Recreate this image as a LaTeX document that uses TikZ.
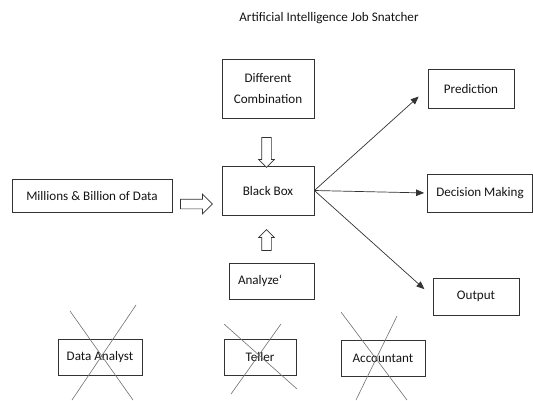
\documentclass[tikz,border=0pt]{standalone}
\usepackage{fontspec}
\setmainfont{Carlito}
\usetikzlibrary{arrows.meta,shapes.arrows,calc}
\definecolor{jInk}{HTML}{141414}
\definecolor{jLine}{HTML}{333333}
\definecolor{jCross}{HTML}{707070}

\begin{document}
\begin{tikzpicture}[
  x=1pt, y=-1pt,
  font=\fontsize{13.1}{15}\selectfont, text=jInk,
  >={Triangle[length=8pt, width=6.5pt]},
  box/.style={rectangle, draw=jLine, line width=0.8pt, inner sep=2pt, align=center},
  hollow/.style={single arrow, draw=jLine, line width=0.7pt, fill=white, inner sep=4.5pt,
                 single arrow head extend=3pt},
  link/.style={->, line width=0.7pt, draw=jLine},
  strike/.style={line width=0.6pt, draw=jCross},
]
\useasboundingbox (0,0) rectangle (533,400);

% title
\node (title) at (329,18) {Artificial Intelligence Job Snatcher};

% centre column
\node[box, minimum width=92pt, minimum height=59pt, font=\fontsize{13.1}{21}\selectfont]
  (comb) at (268,88.5) {Different\\Combination};
\node[box, minimum width=92pt, minimum height=49pt] (bbox) at (268,190.5) {Black Box};
\node[box, minimum width=85pt, minimum height=36pt, text width=67pt, align=left, inner xsep=9pt]
  (anlz) at (271.5,281) {Analyze\symbol{96}};
\node[box, minimum width=160pt, minimum height=33pt] (data) at (92,195.5) {Millions \& Billion of Data};

% hollow arrows into the black box
\node[hollow, minimum height=30pt, shape border rotate=270] (dn) at (266.5,150) {};
\node[hollow, minimum height=21pt, shape border rotate=90] (up) at (266.5,242.5) {};
\node[hollow, minimum height=32pt, single arrow head extend=5pt] (rt) at (194,204) {};

% results
\node[box, minimum width=86pt, minimum height=39pt] (pred) at (471,88.5) {Prediction};
\node[box, minimum width=105pt, minimum height=38pt] (dec) at (480,193) {Decision Making};
\node[box, minimum width=86pt, minimum height=37pt] (outp) at (476,296.5) {Output};

\draw[link, shorten >=12pt] (bbox.east) -- (pred.west);
\draw[link, shorten >=3pt] (bbox.east) -- (dec.west);
\draw[link, shorten >=11pt] (bbox.east) -- (outp.west);

% jobs taken over
\node[box, minimum width=84pt, minimum height=36pt] (anlst) at (100,357) {Data Analyst};
\node[box, minimum width=72pt, minimum height=36pt] (tell) at (260,357) {Teller};
\node[box, minimum width=84pt, minimum height=36pt] (acct) at (383,358) {Accountant};

\draw[strike] ($(anlst)+(-30,-46)$) -- ($(anlst)+(33,43)$);
\draw[strike] ($(anlst)+(36,-52)$) -- ($(anlst)+(-28,43)$);
\draw[strike] ($(tell)+(-36,-33)$) -- ($(tell)+(37,32)$);
\draw[strike] ($(tell)+(21,-33)$) -- ($(tell)+(-29,37)$);
\draw[strike] ($(acct)+(-42,-46)$) -- ($(acct)+(24,42)$);
\draw[strike] ($(acct)+(14,-42)$) -- ($(acct)+(-27,42)$);

\end{tikzpicture}
\end{document}
